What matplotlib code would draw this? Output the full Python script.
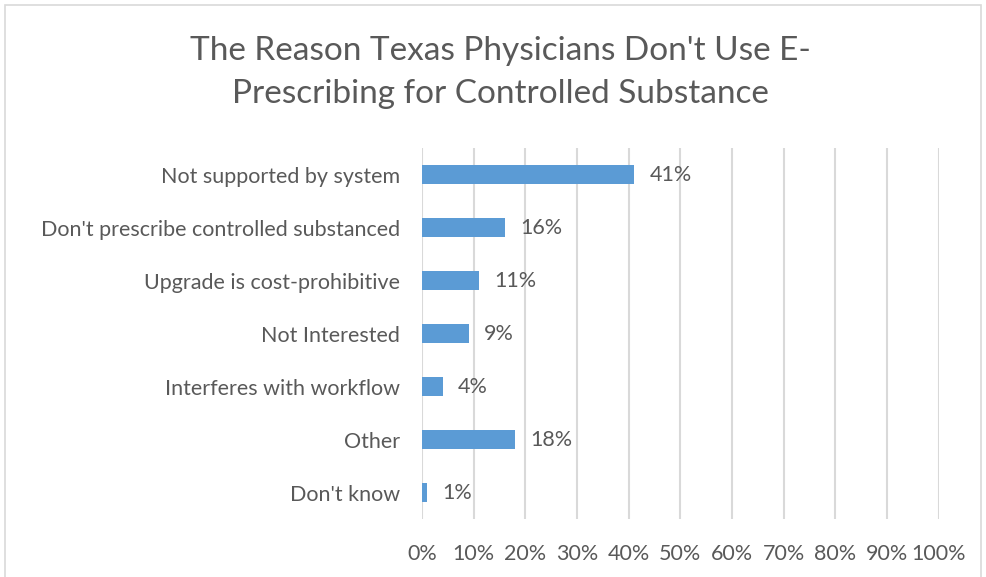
import matplotlib.pyplot as plt
from matplotlib.patches import Rectangle

plt.rcParams['font.family'] = ['Lato', 'DejaVu Sans']

reasons = [
    "Not supported by system",
    "Don't prescribe controlled substanced",
    "Upgrade is cost-prohibitive",
    "Not Interested",
    "Interferes with workflow",
    "Other",
    "Don't know",
]
shares = [41, 16, 11, 9, 4, 18, 1]
tick_values = list(range(0, 101, 10))

text_color = '#595959'
bar_color = '#5B9BD5'
grid_color = '#D9D9D9'

fig = plt.figure(figsize=(9.86, 5.77), dpi=100)
ax = fig.add_axes([0.428, 0.1005, 0.524, 0.643])

# chart frame
fig.patches.append(Rectangle((0.005, -0.01), 0.99, 1.002, transform=fig.transFigure,
                             fill=False, edgecolor=grid_color, lw=1.2))

y = range(len(reasons))
ax.barh(y, shares, height=0.36, color=bar_color, zorder=3)
for yi, v in zip(y, shares):
    ax.text(v + 3.0, yi, f"{v}%", va='center', ha='left', fontsize=15.5, color=text_color)

ax.set_ylim(len(reasons) - 0.5, -0.5)
ax.set_yticks(list(y))
ax.set_yticklabels(reasons, fontsize=15.5, color=text_color)
ax.set_xlim(0, 100)
ax.set_xticks(tick_values)
ax.set_xticklabels([f"{t}%" for t in tick_values], fontsize=15.5, color=text_color)
ax.tick_params(length=0)
ax.tick_params(axis='y', pad=16)
ax.tick_params(axis='x', pad=18)

ax.grid(axis='x', color=grid_color, lw=1.5, zorder=0)
for s in ax.spines.values():
    s.set_visible(False)

fig.text(0.508, 0.874, "The Reason Texas Physicians Don't Use E-\nPrescribing for Controlled Substance",
         ha='center', va='center', fontsize=24, color=text_color, linespacing=1.55)

fig.savefig('out.png', dpi=100)
